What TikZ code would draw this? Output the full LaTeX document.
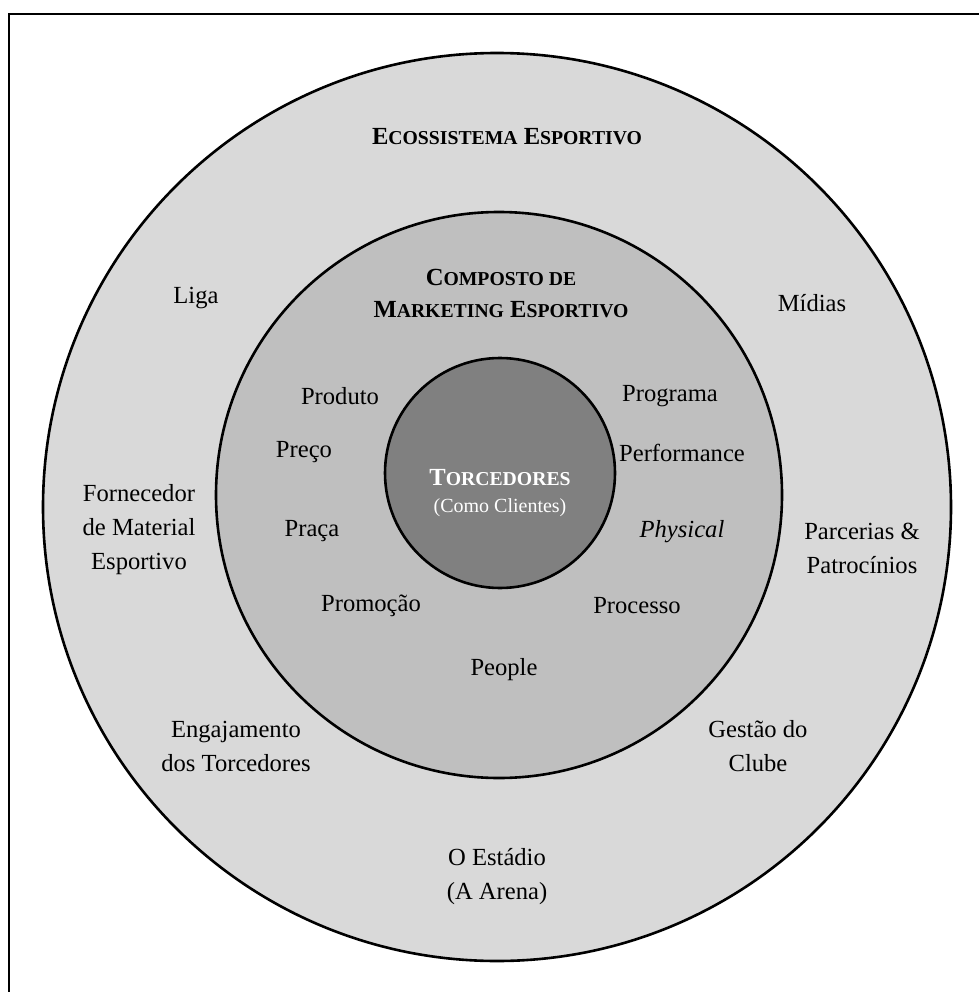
\documentclass[tikz,border=0pt]{standalone}
\usepackage{fontspec}
\setmainfont{Liberation Serif}
\newcommand\mysc[2]{#1{\fontsize{19.7}{34}\selectfont #2}}
\definecolor{ringA}{HTML}{D9D9D9}
\definecolor{ringB}{HTML}{BFBFBF}
\definecolor{ringC}{HTML}{808080}
\begin{document}
\begin{tikzpicture}[x=1pt,y=-1pt,
  lbl/.style={inner sep=0pt,align=center,font=\fontsize{24.6}{34}\selectfont},
  ttl/.style={lbl,font=\fontsize{24.6}{32}\selectfont\bfseries},
  ring/.style={draw=black,line width=2.6pt}]
\useasboundingbox (0,0) rectangle (979,992);
\draw[line width=2.6pt] (9,992) -- (9,14) -- (979,14);
\draw[ring,fill=ringA] (497,507) circle[radius=454pt];
\draw[ring,fill=ringB] (499,495) circle[radius=283pt];
\draw[ring,fill=ringC] (500,473) circle[radius=115pt];

\node[ttl] (eco) at (507,137) {\mysc{E}{COSSISTEMA} \mysc{E}{SPORTIVO}};
\node[ttl] (comp) at (501,294) {\mysc{C}{OMPOSTO DE}\\\mysc{M}{ARKETING} \mysc{E}{SPORTIVO}};
\node[ttl,text=white] (torc) at (500,478) {\mysc{T}{ORCEDORES}};
\node[lbl,text=white,font=\fontsize{20}{24}\selectfont] (cli) at (500,508) {(Como Clientes)};

\node[lbl] (liga) at (196,298) {Liga};
\node[lbl] (midias) at (812,303) {Mídias};
\node[lbl] (produto) at (340,396) {Produto};
\node[lbl] (programa) at (670,396) {Programa};
\node[lbl] (preco) at (304,452) {Preço};
\node[lbl] (perf) at (682,453) {Performance};
\node[lbl] (praca) at (312,531) {Praça};
\node[lbl] (phys) at (682,532) {\itshape Physical};
\node[lbl] (promo) at (371,606) {Promoção};
\node[lbl] (proc) at (637,606) {Processo};
\node[lbl] (people) at (504,670) {People};
\node[lbl] (forn) at (139,530) {Fornecedor\\de Material\\Esportivo};
\node[lbl] (parc) at (862,548) {Parcerias \&\\Patrocínios};
\node[lbl] (engaj) at (236,746) {Engajamento\\dos Torcedores};
\node[lbl] (gestao) at (758,746) {Gestão do\\Clube};
\node[lbl] (estadio) at (497,877) {O Estádio\\(A Arena)};
\end{tikzpicture}
\end{document}
